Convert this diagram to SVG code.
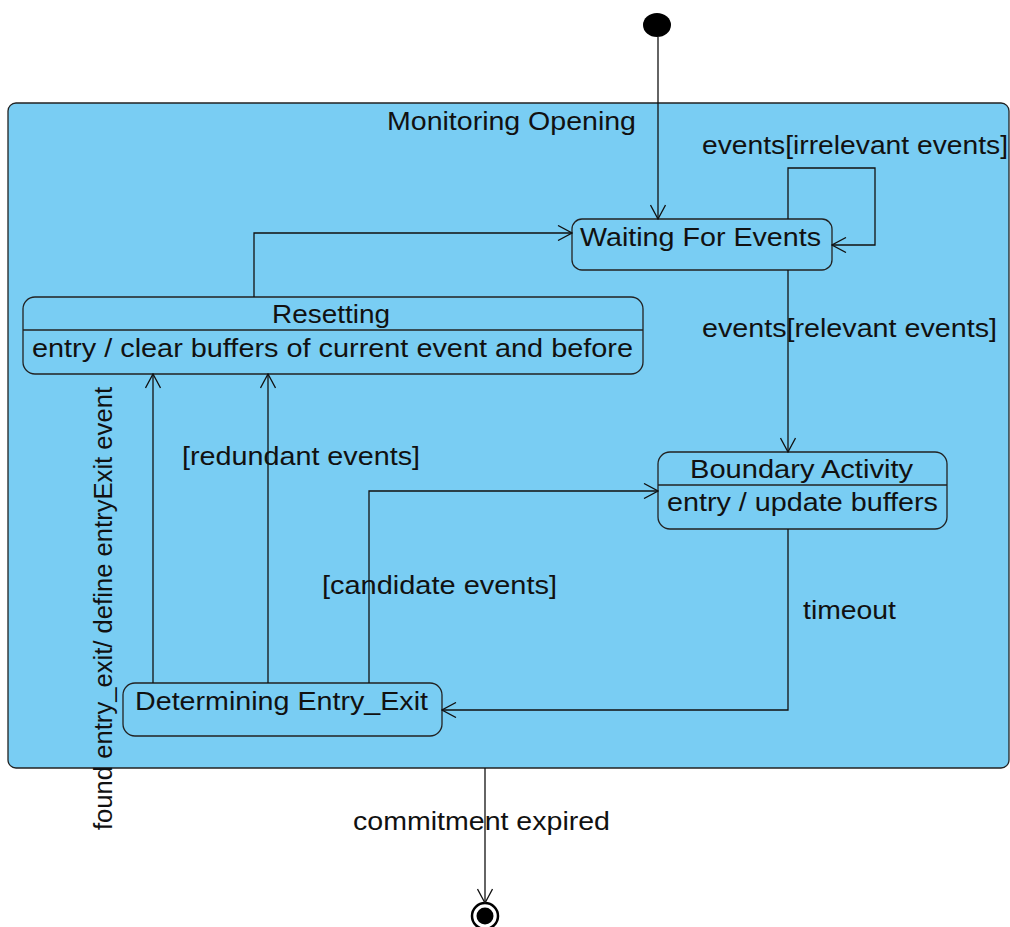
<svg xmlns="http://www.w3.org/2000/svg" width="1010" height="927" viewBox="0 0 1010 927">
<style>
.bg{fill:#ffffff}
.cont{fill:#79CDF3;stroke:#222;stroke-width:1.3}
.st{fill:#79CDF3;stroke:#222;stroke-width:1.3}
.div{stroke:#222;stroke-width:1.3}
.t{font-family:"Liberation Sans",Arial,sans-serif;font-size:25px;fill:#111}
.c{fill:none;stroke:#111;stroke-width:1.3}
</style>
<defs>
<marker id="arr" viewBox="0 0 16 16" refX="15" refY="8" markerWidth="16" markerHeight="16" markerUnits="userSpaceOnUse" orient="auto">
<path d="M1,0.5 L15,8 L1,15.5" fill="none" stroke="#111" stroke-width="1.3"/>
</marker>
</defs>
<rect class="bg" x="0" y="0" width="1010" height="927"/>
<g id="monitoring-opening">
<rect class="cont" x="8" y="103" width="1001" height="665" rx="8"/>
<text class="t" x="387" y="130" textLength="249" lengthAdjust="spacingAndGlyphs">Monitoring Opening</text>
</g>
<g id="initial">
<ellipse cx="657" cy="25" rx="14" ry="12" fill="#000"/>
</g>
<g id="waiting-for-events">
<rect class="st" x="572" y="219" width="260" height="51" rx="10"/>
<text class="t" x="580" y="246" textLength="241" lengthAdjust="spacingAndGlyphs">Waiting For Events</text>
</g>
<g id="resetting">
<rect class="st" x="23" y="297" width="620" height="77" rx="12"/>
<line class="div" x1="23" y1="330" x2="643" y2="330"/>
<text class="t" x="272" y="323" textLength="118" lengthAdjust="spacingAndGlyphs">Resetting</text>
<text class="t" x="32" y="357" textLength="601" lengthAdjust="spacingAndGlyphs">entry / clear buffers of current event and before</text>
</g>
<g id="boundary-activity">
<rect class="st" x="658" y="452" width="289" height="77" rx="12"/>
<line class="div" x1="658" y1="485" x2="947" y2="485"/>
<text class="t" x="690" y="478" textLength="223" lengthAdjust="spacingAndGlyphs">Boundary Activity</text>
<text class="t" x="667" y="511" textLength="271" lengthAdjust="spacingAndGlyphs">entry / update buffers</text>
</g>
<g id="determining-entry-exit">
<rect class="st" x="123" y="683" width="319" height="53" rx="12"/>
<text class="t" x="135" y="710" textLength="293" lengthAdjust="spacingAndGlyphs">Determining Entry_Exit</text>
</g>
<g id="final">
<circle cx="485" cy="916" r="13" fill="#fff" stroke="#000" stroke-width="2.5"/>
<circle cx="485" cy="916" r="8.5" fill="#000"/>
</g>
<g id="connectors">
<path class="c" d="M658,37 L658,219" marker-end="url(#arr)"/>
<path class="c" d="M788,219 L788,168 L875,168 L875,245 L832,245" marker-end="url(#arr)"/>
<path class="c" d="M788,270 L788,452" marker-end="url(#arr)"/>
<path class="c" d="M788,529 L788,710 L442,710" marker-end="url(#arr)"/>
<path class="c" d="M369,683 L369,491 L658,491" marker-end="url(#arr)"/>
<path class="c" d="M268,683 L268,374" marker-end="url(#arr)"/>
<path class="c" d="M153,683 L153,374" marker-end="url(#arr)"/>
<path class="c" d="M254,297 L254,233 L572,233" marker-end="url(#arr)"/>
<path class="c" d="M485,768 L485,903" marker-end="url(#arr)"/>
<text class="t" x="702" y="154" textLength="306" lengthAdjust="spacingAndGlyphs">events[irrelevant events]</text>
<text class="t" x="702" y="337" textLength="295" lengthAdjust="spacingAndGlyphs">events[relevant events]</text>
<text class="t" x="803" y="619" textLength="93" lengthAdjust="spacingAndGlyphs">timeout</text>
<text class="t" x="322" y="594" textLength="235" lengthAdjust="spacingAndGlyphs">[candidate events]</text>
<text class="t" x="182" y="465" textLength="238" lengthAdjust="spacingAndGlyphs">[redundant events]</text>
<text class="t" transform="translate(112,830) rotate(-90)" x="0" y="0" textLength="443" lengthAdjust="spacingAndGlyphs">found entry_exit/ define entryExit event</text>
<text class="t" x="353" y="830" textLength="257" lengthAdjust="spacingAndGlyphs">commitment expired</text>
</g>
</svg>
